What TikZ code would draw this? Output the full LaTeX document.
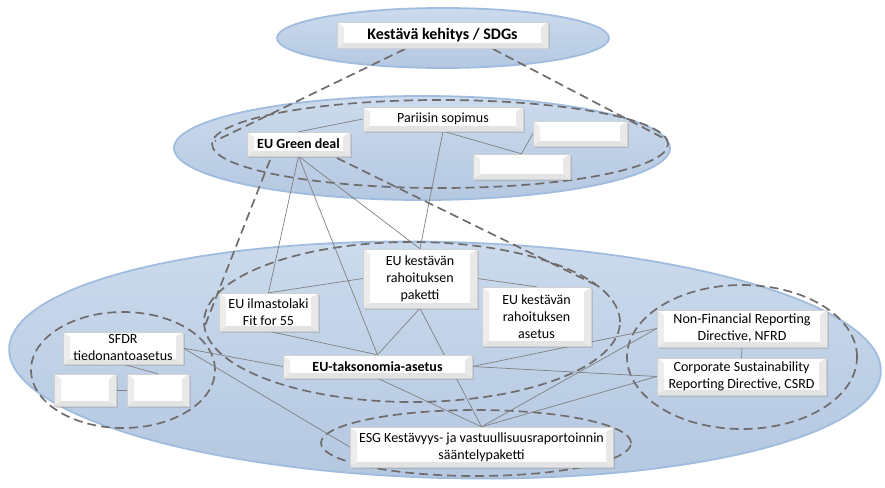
\documentclass[tikz,border=0pt]{standalone}
\usepackage{fontspec}
\setmainfont{Carlito}
\usetikzlibrary{shadows,calc}
\pgfdeclarelayer{bg}\pgfdeclarelayer{mid}
\pgfsetlayers{bg,mid,main}
\definecolor{elltop}{RGB}{204,219,237}
\definecolor{ellbot}{RGB}{180,200,225}
\definecolor{elledge}{RGB}{160,188,222}
\definecolor{dashc}{RGB}{112,108,108}
\definecolor{linec}{RGB}{128,128,128}
\tikzset{
 tier/.style={top color=elltop,bottom color=ellbot,draw=elledge,line width=1.8pt},
 grp/.style={draw=dashc,line width=1.7pt,dash pattern=on 9pt off 5pt},
 link/.style={draw=linec,line width=0.7pt},
 box/.style={fill=white,draw=black!18,line width=0.4pt,inner sep=1pt,align=center,
   font=\fontsize{14}{17}\selectfont,
   drop shadow={opacity=0.3,shadow xshift=1.5pt,shadow yshift=-1.5pt},
   path picture={
     \fill[black!7] (path picture bounding box.north west) -- ([xshift=7pt,yshift=-5pt]path picture bounding box.north west) -- ([xshift=7pt,yshift=5pt]path picture bounding box.south west) -- (path picture bounding box.south west) -- cycle;
     \fill[black!11] (path picture bounding box.south west) -- ([xshift=7pt,yshift=5pt]path picture bounding box.south west) -- ([xshift=-7pt,yshift=5pt]path picture bounding box.south east) -- (path picture bounding box.south east) -- cycle;
     \fill[black!9] (path picture bounding box.north east) -- ([xshift=-7pt,yshift=-5pt]path picture bounding box.north east) -- ([xshift=-7pt,yshift=5pt]path picture bounding box.south east) -- (path picture bounding box.south east) -- cycle;
   }},
 bbox/.style={box,font=\fontsize{14}{17}\selectfont\bfseries},
 tbox/.style={box,font=\fontsize{16}{19}\selectfont\bfseries},
}
\begin{document}
\begin{tikzpicture}[x=1pt,y=-1pt]
\useasboundingbox (0,0) rectangle (885,487);

% boxes
\node[tbox,minimum width=211pt,minimum height=26pt] (kk) at (442.5,35) {Kestävä kehitys / SDGs};
\node[box,minimum width=160pt,minimum height=24pt] (paris) at (443,119) {Pariisin sopimus};
\node[box,minimum width=94pt,minimum height=25pt] (ea) at (580,133.5) {};
\node[box,minimum width=97pt,minimum height=25pt] (eb) at (521.5,166.5) {};
\node[bbox,minimum width=103pt,minimum height=24pt] (gd) at (298.5,144) {EU Green deal};
\node[box,minimum width=114pt,minimum height=59pt] (pak) at (420,278.5) {EU kestävän\\rahoituksen\\paketti};
\node[box,minimum width=109pt,minimum height=59pt] (ase) at (536.5,316.5) {EU kestävän\\rahoituksen\\asetus};
\node[box,minimum width=99pt,minimum height=38pt] (ilm) at (268.5,312) {EU ilmastolaki\\Fit for 55};
\node[bbox,minimum width=189pt,minimum height=23pt] (tak) at (377.5,366.5) {EU-taksonomia-asetus};
\node[box,minimum width=120pt,minimum height=32pt] (sfdr) at (123,348) {SFDR\\tiedonantoasetus};
\node[box,minimum width=62pt,minimum height=32pt] (ec) at (85,390) {};
\node[box,minimum width=62pt,minimum height=32pt] (ed) at (158,390) {};
\node[box,minimum width=170pt,minimum height=37pt] (nfrd) at (742,328.5) {Non-Financial Reporting\\Directive, NFRD};
\node[box,minimum width=169pt,minimum height=37pt] (csrd) at (741.5,376.5) {Corporate Sustainability\\Reporting Directive, CSRD};
\node[box,minimum width=263pt,minimum height=40pt] (esg) at (481.5,447) {ESG Kestävyys- ja vastuullisuusraportoinnin\\sääntelypaketti};

\begin{pgfonlayer}{bg}
\path[tier,rotate around={-1.5:(445,360)}] (445,360) ellipse [x radius=436pt, y radius=118pt];
\path[tier] (422,148) ellipse [x radius=248pt, y radius=52pt];
\path[tier] (443,38) ellipse [x radius=166pt, y radius=30pt];
\end{pgfonlayer}

\begin{pgfonlayer}{mid}
% dashed groups
\path[grp] (440,144) ellipse [x radius=228pt, y radius=44pt];
\path[grp] (412,322) ellipse [x radius=208pt, y radius=80pt];
\path[grp] (123,370) ellipse [x radius=92pt, y radius=58pt];
\path[grp] (742,357) ellipse [x radius=115pt, y radius=72pt];
\path[grp] (476,443) ellipse [x radius=155pt, y radius=33pt];
\coordinate (c1a) at (405,49);
\coordinate (c1b) at (215,141);
\coordinate (c2a) at (493,49);
\coordinate (c2b) at (667,140);
\coordinate (c3a) at (270,160);
\coordinate (c3b) at (204,328);
\coordinate (c4a) at (337,158);
\coordinate (c4b) at (598,286);
\draw[grp] (c1a) -- (c1b);
\draw[grp] (c2a) -- (c2b);
\draw[grp] (c3a) -- (c3b);
\draw[grp] (c4a) -- (c4b);
% connectors
\draw[link] (gd.north) -- (paris.west);
\draw[link] (paris.south) -- (pak.north);
\draw[link] (paris.south) -- (eb.north);
\draw[link] (eb.north) -- (ea.west);
\draw[link] (gd.south) -- (ilm.north);
\draw[link] (gd.south) -- (tak.north);
\draw[link] (gd.south) -- (pak.north);
\draw[link] (pak.west) -- (ilm.north);
\draw[link] (pak.east) -- (ase.north);
\draw[link] (pak.south) -- (tak.north);
\draw[link] (pak.south) -- (esg.north);
\draw[link] (ilm.south) -- (tak.north);
\draw[link] (sfdr.east) -- (tak.west);
\draw[link] (sfdr.east) -- (esg.west);
\draw[link] (sfdr.south) -- (ed.north);
\draw[link] (ec.east) -- (ed.west);
\draw[link] (tak.east) -- (nfrd.west);
\draw[link] (tak.east) -- (csrd.west);
\draw[link] (tak.south) -- (esg.north);
\draw[link] (esg.north) -- (nfrd.west);
\draw[link] (esg.north) -- (csrd.west);
\draw[link] (nfrd.south) -- (csrd.north);
\end{pgfonlayer}
\end{tikzpicture}
\end{document}
